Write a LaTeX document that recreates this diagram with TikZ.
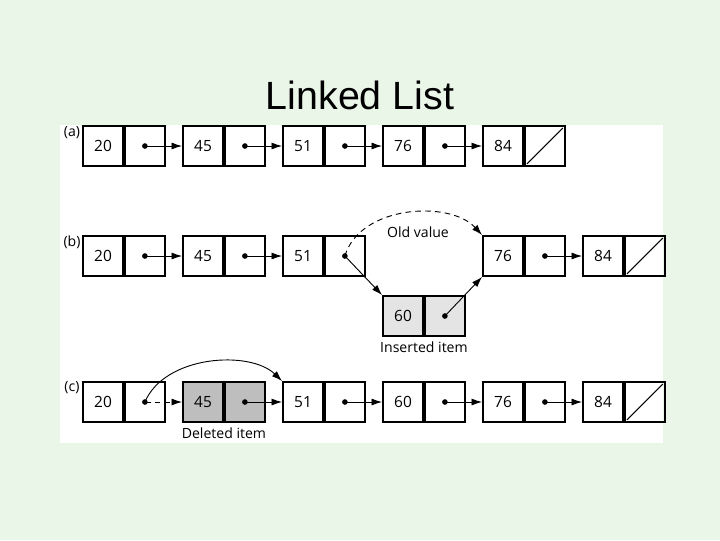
\documentclass[tikz,border=0pt]{standalone}
\usepackage{fontspec}
\setmainfont{Open Sans}
\newfontfamily\titlefont{Liberation Sans}
\usetikzlibrary{arrows.meta,positioning}
\definecolor{slidebg}{RGB}{234,246,232}
\definecolor{newgray}{RGB}{228,228,228}
\definecolor{delgray}{RGB}{190,190,190}

\tikzset{
	cell/.style={draw, line width=2.6pt, minimum width=57pt, minimum height=57pt, inner sep=0pt, font=\fontsize{22}{26}\selectfont},
	ptr/.style={-{Latex[length=15pt,width=10pt]}, line width=1.3pt},
	dot/.style={circle, fill, inner sep=0pt, minimum size=8pt},
	caption/.style={font=\fontsize{20}{24}\selectfont},
	longdash/.style={dash pattern=on 8pt off 6pt},
}
% one list element: name, x, y, value, fill
\newcommand{\elem}[5]{%
	\node[cell, fill=#5] (#1v) at (#2,#3) {#4};
	\node[cell, fill=#5, right=0pt of #1v] (#1p) {};
	\node[dot] (#1d) at (#1p.center) {};}
% last element, null pointer
\newcommand{\lastelem}[4]{%
	\node[cell] (#1v) at (#2,#3) {#4};
	\node[cell, right=0pt of #1v] (#1p) {};
	\draw[line width=1.5pt] ([shift={(3,-3)}]#1p.south west) -- ([shift={(-3,3)}]#1p.north east);}

\begin{document}
\begin{tikzpicture}[x=0.5mm, y=-0.5mm]
	\useasboundingbox[fill=slidebg] (0,0) rectangle (720,540);
	\fill[white] (60,125) rectangle (663,443);
	\node[font=\titlefont\fontsize{56}{64}\selectfont] (title) at (360,95) {Linked List};
	
	% (a)
	\node[caption] (la) at (72,133) {(a)};
	\foreach \n/\x/\v in {1/103/20, 2/203/45, 3/303/51, 4/403/76}
		\elem{a\n}{\x}{146}{\v}{white};
	\lastelem{a5}{503}{146}{84}
	\foreach \i/\j in {1/2, 2/3, 3/4, 4/5}
		\draw[ptr] (a\i d.center) -- (a\j v.west);
	
	% (b)
	\node[caption] (lb) at (72,242) {(b)};
	\foreach \n/\x/\v in {1/103/20, 2/203/45, 3/303/51, 4/503/76}
		\elem{b\n}{\x}{256}{\v}{white};
	\lastelem{b5}{603}{256}{84}
	\elem{bn}{403}{316}{60}{newgray}
	\foreach \i/\j in {1/2, 2/3, 4/5}
		\draw[ptr] (b\i d.center) -- (b\j v.west);
	\draw[ptr] (b3d.center) -- (bnv.north west);
	\draw[ptr] (bnd.center) -- (b4v.south west);
	\draw[ptr, longdash] (b3d.center) .. controls (360,205) and (450,200) .. (b4v.north west);
	\node[caption] (old) at (418,232) {Old value};
	\node[caption, below=4pt of bnp.south west] (ins) {Inserted item};
	
	% (c)
	\node[caption] (lc) at (72,388) {(c)};
	\foreach \n/\x/\v/\c in {1/103/20/white, 2/203/45/delgray, 3/303/51/white, 4/403/60/white, 5/503/76/white}
		\elem{c\n}{\x}{402}{\v}{\c};
	\lastelem{c6}{603}{402}{84}
	\foreach \i/\j in {2/3, 3/4, 4/5, 5/6}
		\draw[ptr] (c\i d.center) -- (c\j v.west);
	\draw[ptr, longdash] (c1d.center) -- (c2v.west);
	\draw[ptr] (c1d.center) .. controls (165,355) and (250,350) .. (c3v.north west);
	\node[caption, below=4pt of c2p.south west] (del) {Deleted item};
\end{tikzpicture}
\end{document}
